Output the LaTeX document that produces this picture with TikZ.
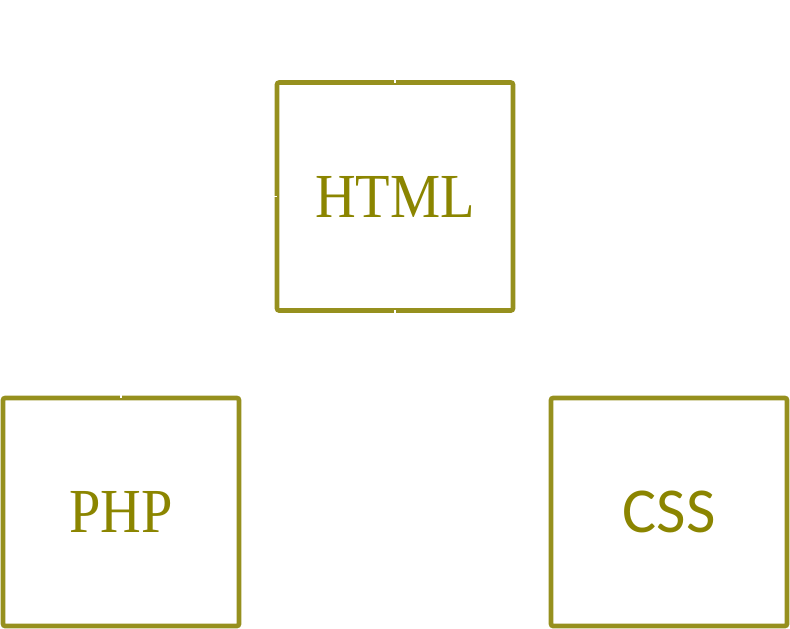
\documentclass[tikz,border=0pt]{standalone}
\usepackage{fontspec}
\setmainfont{Liberation Serif}
\newfontfamily\langfont[FakeStretch=0.9]{Liberation Serif}
\newfontfamily\cssfont{Carlito}
\definecolor{olivetext}{RGB}{139,133,0}
\definecolor{oliveline}{RGB}{150,144,30}

\begin{document}
\begin{tikzpicture}[x=0.75pt,y=-0.75pt,
    langbox/.style={draw=oliveline,line width=3.4pt,rounded corners=1.5pt,minimum width=177pt,minimum height=171pt,inner sep=0pt,text=olivetext,font=\langfont\fontsize{47}{50}\selectfont},
    hidden/.style={white,line width=1pt}]
                    \useasboundingbox (0,0) rectangle (790,629);
                    \node[langbox] (html) at (395,196.5) {HTML};
                    \node[langbox] (php) at (121,512) {PHP};
                    \node[langbox,font=\cssfont\fontsize{48}{50}\selectfont] (css) at (669,512) {CSS};
                    \draw[hidden] ([yshift=2pt]html.south) -- ([yshift=-2pt]html.south);
                    \draw[hidden] ([yshift=2pt]html.north) -- ([yshift=-2pt]html.north);
                    \draw[hidden] ([xshift=-2pt]html.west) -- ([xshift=2pt]html.west);
                    \draw[hidden] ([yshift=2pt]php.north) -- ([yshift=-2pt]php.north);
                \end{tikzpicture}
\end{document}
